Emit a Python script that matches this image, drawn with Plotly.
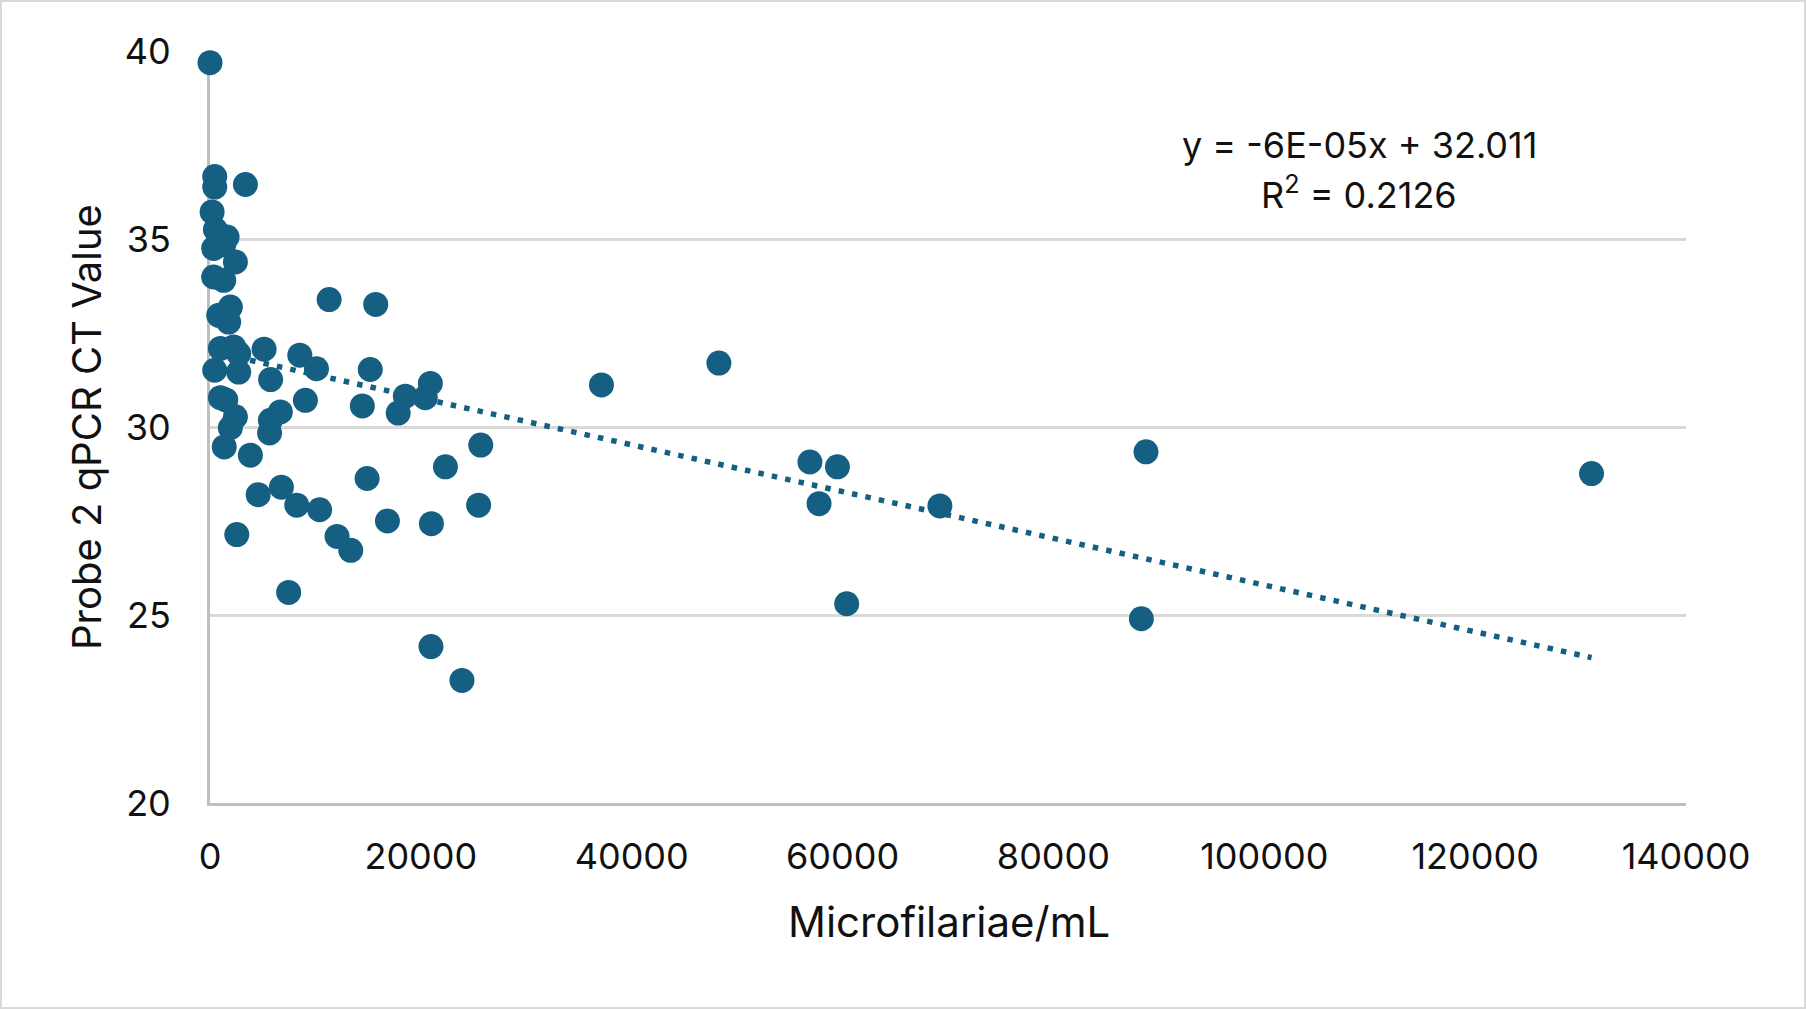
import plotly.graph_objects as go

# Data
mf_per_ml = [0, 450, 450, 3360, 200, 510, 1620, 350, 1300, 2410,
             350, 1300, 1930, 830, 1770, 11300, 15720, 990, 2250, 2720,
             5130, 8520, 10100, 450, 2720, 5750, 990, 1500, 9050, 2410,
             6670, 5730, 1930, 5650, 1350, 3830, 4570, 6770, 8230, 10400,
             2540, 7460, 12050, 13350, 15200, 14450, 18530, 17850, 20420, 20900,
             14900, 22330, 25680, 16830, 21000, 25480, 20960, 23900, 37130, 48270,
             56900, 59510, 57770, 60390, 69230, 88780, 88340, 131040]
ct_values = [39.69, 36.66, 36.38, 36.45, 35.72, 35.25, 35.05, 34.75, 34.85, 34.39,
             33.99, 33.90, 33.19, 32.97, 32.79, 33.39, 33.26, 32.09, 32.13, 31.95,
             32.07, 31.91, 31.55, 31.51, 31.46, 31.26, 30.78, 30.72, 30.71, 30.27,
             30.40, 30.18, 29.98, 29.84, 29.47, 29.25, 28.20, 28.40, 27.92, 27.80,
             27.14, 25.60, 27.09, 26.72, 31.53, 30.56, 30.82, 30.37, 30.78, 31.16,
             28.63, 28.94, 29.52, 27.50, 27.43, 27.92, 24.16, 23.26, 31.12, 31.70,
             29.07, 28.94, 27.96, 25.30, 27.90, 29.34, 24.90, 28.76]

trend_slope = -6.215e-05
trend_intercept = 32.011
equation_text = "y = -6E-05x + 32.011"
r2_text = "R<sup>2</sup> = 0.2126"

x_ticks = [0, 20000, 40000, 60000, 80000, 100000, 120000, 140000]
y_ticks = [20, 25, 30, 35, 40]

color = "#156082"
font_family = "Inter"

trend_x = [min(mf_per_ml), max(mf_per_ml)]
trend_y = [trend_intercept + trend_slope * v for v in trend_x]

fig = go.Figure()
fig.add_trace(go.Scatter(
    x=trend_x, y=trend_y, mode="lines",
    line=dict(color=color, width=5.5, dash="5.5px,8.2px"),
    hoverinfo="skip", showlegend=False, cliponaxis=False))
fig.add_trace(go.Scatter(
    x=mf_per_ml, y=ct_values, mode="markers",
    marker=dict(color=color, size=25, line=dict(width=0)),
    showlegend=False, cliponaxis=False))

W, H = 1806, 1009
L, R, T, B = 210, 120, 51, 206
pw, ph = W - L - R, H - T - B

fig.update_layout(
    width=W, height=H,
    margin=dict(l=L, r=R, t=T, b=B, pad=0),
    paper_bgcolor="white", plot_bgcolor="white",
    font=dict(family=font_family, size=36, color="#111111"),
    xaxis=dict(range=[0, 140000], tickvals=x_ticks,
               ticktext=[str(v) for v in x_ticks],
               showgrid=False, zeroline=False,
               showline=True, linecolor="#bfbfbf", linewidth=3,
               ticks="", ticklabelstandoff=20, layer="below traces",
               tickfont=dict(size=36)),
    yaxis=dict(range=[20, 40], tickvals=y_ticks,
               showgrid=True, gridcolor="#d9d9d9", gridwidth=2.5,
               zeroline=False,
               showline=True, linecolor="#bfbfbf", linewidth=3,
               ticks="", ticklabelstandoff=29, layer="below traces",
               tickfont=dict(size=36)),
)

annotations = [
    dict(text="Microfilariae/mL", xref="paper", yref="paper",
         x=(949 - L) / pw, y=(H - B - 921) / ph,
         showarrow=False, font=dict(size=42), xanchor="center", yanchor="middle"),
    dict(text="Probe 2 qPCR CT Value", xref="paper", yref="paper",
         x=(86 - L) / pw, y=(H - B - 427) / ph, textangle=-90,
         showarrow=False, font=dict(size=40), xanchor="center", yanchor="middle"),
    dict(text=equation_text, xref="paper", yref="paper",
         x=(1359 - L) / pw, y=(H - B - 145) / ph,
         showarrow=False, font=dict(size=36), xanchor="center", yanchor="middle"),
    dict(text=r2_text, xref="paper", yref="paper",
         x=(1359 - L) / pw, y=(H - B - 193) / ph,
         showarrow=False, font=dict(size=36), xanchor="center", yanchor="middle"),
]
fig.update_layout(annotations=annotations)

# outer chart border
fig.add_shape(type="rect", xref="paper", yref="paper",
              x0=(1 - L) / pw, x1=(W - 1 - L) / pw,
              y0=(H - B - (H - 1)) / ph, y1=(H - B - 1) / ph,
              line=dict(color="#d9d9d9", width=2), fillcolor="rgba(0,0,0,0)",
              layer="below")

fig.write_html("out.html",
               config={"displayModeBar": False},
               post_script="document.body.style.margin='0px';"
                           "document.body.style.overflow='hidden';")
